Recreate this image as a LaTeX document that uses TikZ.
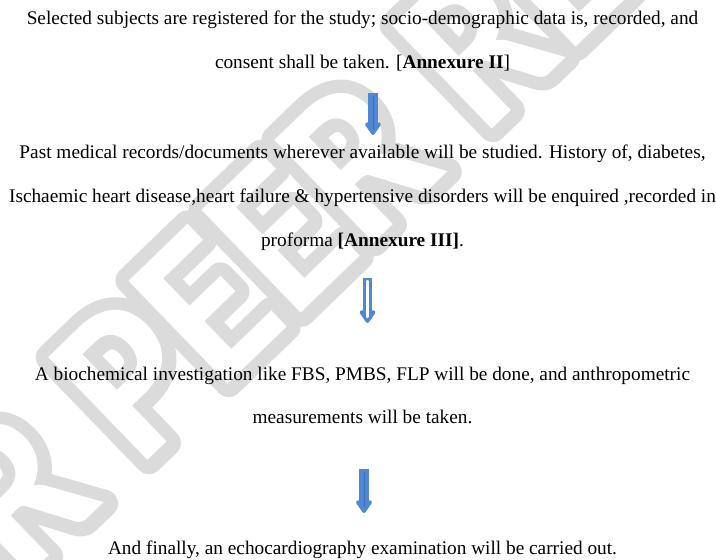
\documentclass[tikz,border=0pt]{standalone}
\usepackage{fontspec}
\setmainfont{Liberation Serif}
\newfontfamily\wmfont{Carlito}
\usetikzlibrary{arrows.meta,calc}
\definecolor{wmgray}{RGB}{219,219,219}
\definecolor{arrowblue}{RGB}{80,136,212}
\definecolor{arrowline}{RGB}{62,112,182}
\newcommand{\fattext}[1]{\special{pdf:literal direct 2 Tr 26 w 1 j 1 J}#1\special{pdf:literal direct 0 Tr}}
\tikzset{
  txt/.style={anchor=base, inner sep=0pt, font=\fontsize{19.3}{23}\selectfont},
  wm/.style={transform shape, anchor=base, inner sep=0pt,
    font=\wmfont\bfseries\fontsize{208}{220}\selectfont},
  barrow/.style={draw=arrowblue, line width=9.5pt,
    -{Triangle[width=18pt,length=14pt,round]}},
  midline/.style={draw=arrowline, line width=0.8pt},
  hollowline/.style={draw=white, line width=2.2pt, line cap=round}
}
\begin{document}
\begin{tikzpicture}[x=1pt,y=-1pt]
\useasboundingbox (0,0) rectangle (716,560);
\fill[white] (0,0) rectangle (716,560);
% watermark: grey band round white letters
\begin{scope}
  \clip (0,0) rectangle (716,560);
  \begin{scope}[shift={(318,297)}, rotate=44, yscale=1.06]
    \node[wm, text=wmgray] (wmband) at (0,0) {\fattext{UNDER PEER REVIEW}};
    \node[wm, text=white] (wmfill) at (0,0) {UNDER PEER REVIEW};
  \end{scope}
\end{scope}
% text lines
\node[txt] (p1a) at (362.5,24) {Selected subjects are registered for the study; socio-demographic data is, recorded, and};
\node[txt] (p1b) at (362.5,68) {consent shall be taken. [\textbf{Annexure II}]};
\node[txt] (p2a) at (362.5,158) {Past medical records/documents wherever available will be studied. History of, diabetes,};
\node[txt] (p2b) at (362.5,202) {Ischaemic heart disease,heart failure \& hypertensive disorders will be enquired ,recorded in};
\node[txt] (p2c) at (362.5,246) {proforma \textbf{[Annexure III]}.};
\node[txt] (p3a) at (362.5,380) {A biochemical investigation like FBS, PMBS, FLP will be done, and anthropometric};
\node[txt] (p3b) at (362.5,423) {measurements will be taken.};
\node[txt] (p4a) at (362.5,554) {And finally, an echocardiography examination will be carried out.};
% arrows
\coordinate (a1s) at (373,93);
\coordinate (a1e) at (373,135);
\coordinate (a2s) at (367.5,278);
\coordinate (a2e) at (367.5,323);
\coordinate (a3s) at (364,469);
\coordinate (a3e) at (364,513);
\draw[barrow] (a1s) -- (a1e);
\draw[midline] ($(a1s)+(0,3)$) -- ($(a1e)+(0,-6)$);
\draw[barrow] (a2s) -- (a2e);
\draw[hollowline] ($(a2s)+(0,3)$) -- ($(a2e)+(0,-6)$);
\draw[barrow] (a3s) -- (a3e);
\draw[midline] ($(a3s)+(0,3)$) -- ($(a3e)+(0,-6)$);
\end{tikzpicture}
\end{document}
